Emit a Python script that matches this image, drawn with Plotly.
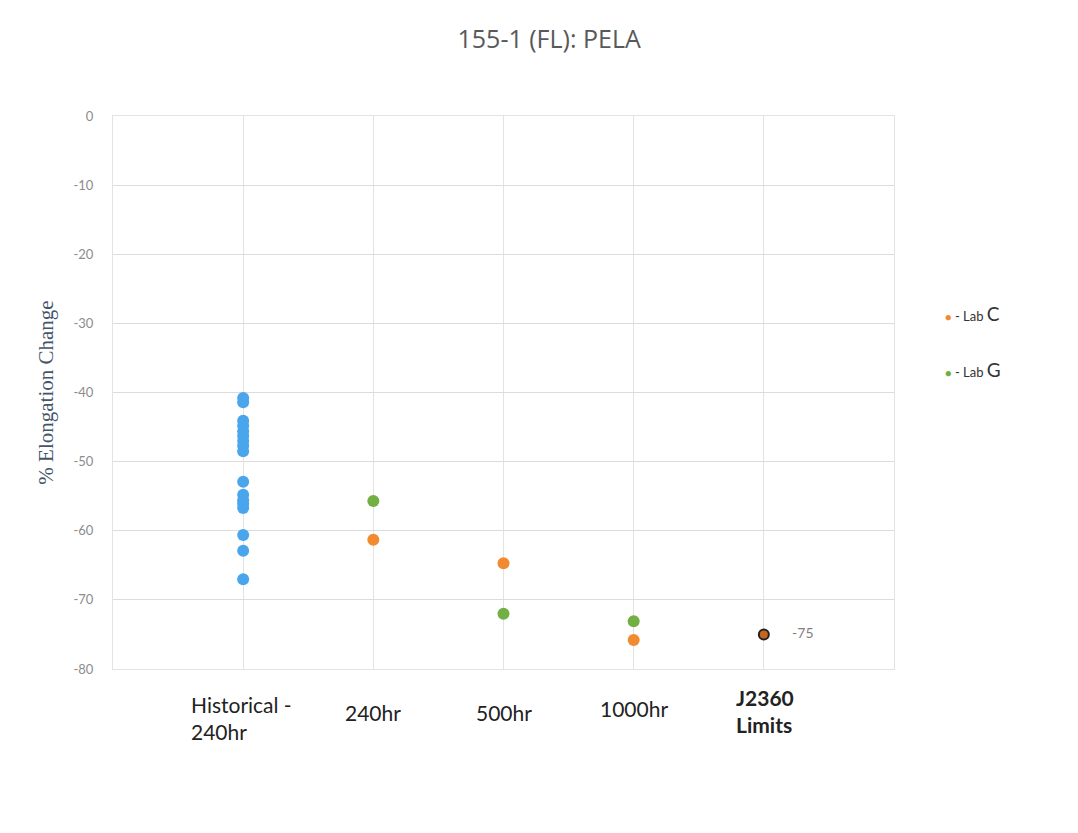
import plotly.graph_objects as go

categories = ["Historical -<br>240hr", "240hr", "500hr", "1000hr", "<b>J2360<br>Limits</b>"]
cat_pos = [1, 2, 3, 4, 5]

historical_240hr = [-40.8, -41.4, -44.1, -44.8, -45.6, -46.3, -47.0, -47.7, -48.5,
                    -52.9, -54.8, -55.6, -56.1, -56.7, -60.6, -62.9, -67.0]
lab_c_x = [2, 3, 4]
lab_c = [-61.3, -64.7, -75.8]
lab_g_x = [2, 3, 4]
lab_g = [-55.7, -72.0, -73.1]
limit_x = [5]
limit = [-75]

y_ticks = [0, -10, -20, -30, -40, -50, -60, -70, -80]

BLUE = "#4AA6EC"
ORANGE = "#F28A30"
GREEN = "#72B043"
LIMIT_FILL = "#C8661E"

fig = go.Figure()
fig.add_trace(go.Scatter(x=[1] * len(historical_240hr), y=historical_240hr, mode="markers",
                         marker=dict(color=BLUE, size=12), showlegend=False, cliponaxis=False))
fig.add_trace(go.Scatter(x=lab_g_x, y=lab_g, mode="markers",
                         marker=dict(color=GREEN, size=12), showlegend=False))
fig.add_trace(go.Scatter(x=lab_c_x, y=lab_c, mode="markers",
                         marker=dict(color=ORANGE, size=12), showlegend=False))
fig.add_trace(go.Scatter(x=limit_x, y=limit, mode="markers+text",
                         text=["\u2003\u2003" + str(v) for v in limit], textposition="middle right",
                         textfont=dict(family="Lato, sans-serif", size=14, color="#7f7f7f"),
                         marker=dict(color=LIMIT_FILL, size=10, line=dict(color="#222222", width=2)),
                         showlegend=False))

fig.update_layout(
    width=1078, height=833,
    margin=dict(l=105, r=192, t=108, b=172),
    paper_bgcolor="white", plot_bgcolor="white",
    title=dict(text="155-1 (FL): PELA", x=0.502, xanchor="center", y=0.962, yanchor="middle",
               font=dict(family="Open Sans, sans-serif", size=25, color="#595959")),
    xaxis=dict(range=[0, 6], tickvals=[0, 1, 2, 3, 4, 5, 6], showticklabels=False,
               showgrid=True, gridcolor="#e3e3e3", gridwidth=1, zeroline=False,
               showline=True, linecolor="#e3e3e3", mirror=True),
    yaxis=dict(range=[-80, 0], tickvals=y_ticks, ticktext=[str(v) for v in y_ticks],
               showgrid=True, gridcolor="#dcdcdc", gridwidth=1, zeroline=False,
               showline=True, linecolor="#e3e3e3", mirror=True, ticks="", ticklabelstandoff=16,
               tickfont=dict(family="Lato, sans-serif", size=13, color="#8c8c8c"),
               title=dict(text="% Elongation Change", standoff=14,
                          font=dict(family="Liberation Serif, DejaVu Serif, serif", size=21, color="#44546A"))),
)

# category labels under the plot
label_specs = [
    (categories[0], 0.584, -0.089, "left"),
    (categories[1], 2.0, -0.078, "center"),
    (categories[2], 3.0, -0.078, "center"),
    (categories[3], 4.0, -0.071, "center"),
    (categories[4], 4.77, -0.076, "left"),
]
for text, xv, yp, align in label_specs:
    fig.add_annotation(x=xv, y=yp, xref="x", yref="paper", text=text, showarrow=False,
                       xanchor=align, yanchor="middle", align=align,
                       font=dict(family="Lato, sans-serif", size=21, color="#222222"))

# custom legend
legend_items = [("C", ORANGE, 0.642), ("G", GREEN, 0.541)]
for letter, color, yp in legend_items:
    fig.add_annotation(x=1.063, y=yp, xref="paper", yref="paper", xanchor="left", yanchor="middle",
                       showarrow=False, align="left",
                       text=f"<span style='color:{color};font-size:11px'>●</span> "
                            f"<span style='font-size:13px'>- Lab </span>"
                            f"<span style='font-size:19px'>{letter}</span>",
                       font=dict(family="Lato, sans-serif", size=13, color="#333333"))

fig.write_html("out.html")
